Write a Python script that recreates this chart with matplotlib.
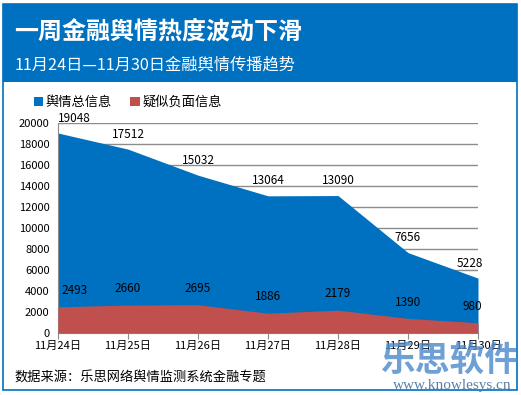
import matplotlib.pyplot as plt
from matplotlib.patches import Rectangle

plt.rcParams['font.family'] = ['Noto Sans CJK SC', 'DejaVu Sans']

# Chart data
dates = ["11月24日", "11月25日", "11月26日", "11月27日", "11月28日", "11月29日", "11月30日"]
total = [19048, 17512, 15032, 13064, 13090, 7656, 5228]
negative = [2493, 2660, 2695, 1886, 2179, 1390, 980]
yticks = [0, 2000, 4000, 6000, 8000, 10000, 12000, 14000, 16000, 18000, 20000]

blue = "#0070C0"
red = "#C0504D"

fig = plt.figure(figsize=(5.21, 3.95), dpi=100)
W, H = 521.0, 395.0

# Outer border and header band
fig.patches.append(Rectangle((3 / W, 1 - 390 / H), 514 / W, 386 / H, transform=fig.transFigure,
                             facecolor="none", edgecolor=blue, linewidth=1.2, zorder=0))
fig.patches.append(Rectangle((3 / W, 1 - 82 / H), 514 / W, 78 / H, transform=fig.transFigure,
                             facecolor=blue, edgecolor="none", zorder=1))
fig.text(14 / W, 1 - 32 / H, "一周金融舆情热度波动下滑", color="white", fontsize=17.3,
         fontweight="bold", va="center", ha="left")
fig.text(15 / W, 1 - 65 / H, "11月24日—11月30日金融舆情传播趋势", color="white", fontsize=11.7,
         va="center", ha="left")

# Plot area
ax = fig.add_axes([58 / W, 1 - 333 / H, 420 / W, 210 / H])
x = list(range(len(dates)))
ax.fill_between(x, 0, total, color=blue, linewidth=0, label="舆情总信息", zorder=2)
ax.fill_between(x, 0, negative, color=red, linewidth=0, label="疑似负面信息", zorder=3)

ax.set_xlim(0, len(dates) - 1)
ax.set_ylim(0, 20000)
ax.set_yticks(yticks)
ax.set_yticklabels([str(v) for v in yticks], fontsize=8)
ax.set_xticks(x)
ax.set_xticklabels(dates, fontsize=8)
ax.yaxis.grid(True, color="#8c8c8c", linewidth=1)
ax.set_axisbelow(True)
for s in ["top", "right"]:
    ax.spines[s].set_visible(False)
for s in ["left", "bottom"]:
    ax.spines[s].set_color("#8c8c8c")
ax.tick_params(axis="y", length=0, pad=6)
ax.tick_params(axis="x", length=4, color="#8c8c8c", pad=2, direction="out")

# Data labels
for i, v in enumerate(total):
    dx = 12 if i == 0 else (-6 if i == len(total) - 1 else 0)
    ax.annotate(str(v), (i, v), xytext=(dx, 6), textcoords="offset points",
                ha="center", va="bottom", fontsize=8.5, zorder=5, annotation_clip=False)
for i, v in enumerate(negative):
    dx = 12 if i == 0 else (-4 if i == len(negative) - 1 else 0)
    ax.annotate(str(v), (i, v), xytext=(dx, 7), textcoords="offset points",
                ha="center", va="bottom", fontsize=8.5, zorder=5)

# Legend
ax.legend(loc="upper left", bbox_to_anchor=(22 / W, 1 - 84 / H), bbox_transform=fig.transFigure,
          ncol=2, frameon=False, fontsize=9.5, handlelength=0.7, handleheight=0.7,
          handletextpad=0.2, columnspacing=1.4)

# Source and watermark
fig.text(14 / W, 1 - 378 / H, "数据来源：乐思网络舆情监测系统金融专题", fontsize=9.5, va="center", ha="left")
fig.text(450 / W, 1 - 360 / H, "乐思软件", fontsize=25, fontweight="heavy", color="#4a88cc",
         alpha=0.8, va="center", ha="center")
fig.text(452 / W, 1 - 386 / H, "www.knowlesys.cn", fontsize=11, family="Liberation Serif",
         color="#5a7ea8", va="center", ha="center")

fig.savefig("out.png", dpi=100)
